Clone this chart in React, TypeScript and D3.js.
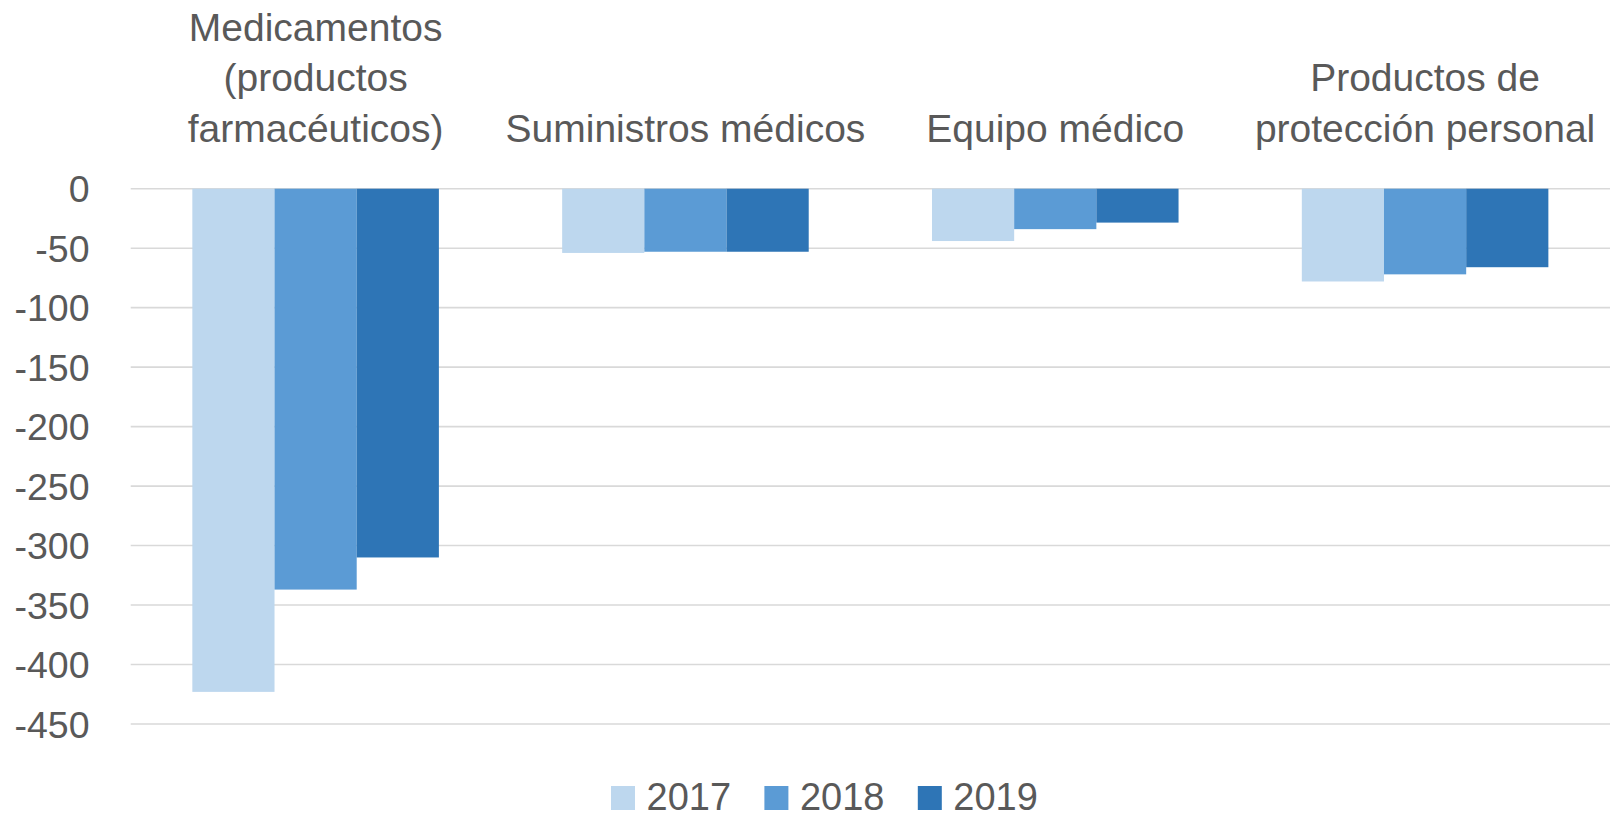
import React from "react";
import * as d3 from "d3";

const categories = [
  "Medicamentos (productos farmacéuticos)",
  "Suministros médicos",
  "Equipo médico",
  "Productos de protección personal",
];
const categoryLines = [
  ["Medicamentos", "(productos", "farmacéuticos)"],
  ["Suministros médicos"],
  ["Equipo médico"],
  ["Productos de", "protección personal"],
];
const seriesNames = ["2017", "2018", "2019"];
const values2017 = [-423, -54, -44, -78];
const values2018 = [-337, -53, -34, -72];
const values2019 = [-310, -53, -28.5, -66];
const yTicks = [0, -50, -100, -150, -200, -250, -300, -350, -400, -450];
const colors = ["#BDD7EE", "#5B9BD5", "#2E75B6"];

const W = 1613;
const H = 821;
const FONT = "'Liberation Sans', Arial, sans-serif";
const TEXT = "#595959";

export default function App() {
  const series = [values2017, values2018, values2019];
  const x = d3
    .scaleBand<string>()
    .domain(categories)
    .range([130.7, 1610])
    .paddingInner(1 / 3)
    .paddingOuter(1 / 6);
  const xs = d3
    .scaleBand<string>()
    .domain(seriesNames)
    .range([0, x.bandwidth()]);
  const y = d3.scaleLinear().domain([-450, 0]).range([724, 188.7]);

  return (
    <svg
      width={W}
      height={H}
      style={{ position: "fixed", left: 0, top: 0, background: "#fff" }}
      fontFamily={FONT}
    >
      <rect width={W} height={H} fill="#fff" />
      {yTicks.map((t) => (
        <g key={t}>
          <line
            x1={130.7}
            x2={1610}
            y1={y(t)}
            y2={y(t)}
            stroke="#D9D9D9"
            strokeWidth={1.6}
          />
          <text
            x={89.5}
            y={y(t)}
            dy="0.36em"
            textAnchor="end"
            fontSize={37.5}
            fill={TEXT}
          >
            {t}
          </text>
        </g>
      ))}
      {categories.map((c, ci) =>
        series.map((vals, si) => {
          const v = vals[ci];
          const bx = (x(c) as number) + (xs(seriesNames[si]) as number);
          return (
            <rect
              key={c + si}
              x={bx}
              width={xs.bandwidth()}
              y={y(0)}
              height={y(v) - y(0)}
              fill={colors[si]}
            />
          );
        })
      )}
      {categories.map((c, ci) => {
        const cx = (x(c) as number) + x.bandwidth() / 2;
        const lines = categoryLines[ci];
        const lastBaseline = 141.7;
        const lh = 50.5;
        return (
          <text key={c} textAnchor="middle" fontSize={39} fill={TEXT}>
            {lines.map((l, li) => (
              <tspan
                key={li}
                x={cx}
                y={lastBaseline - (lines.length - 1 - li) * lh}
              >
                {l}
              </tspan>
            ))}
          </text>
        );
      })}
      {seriesNames.map((s, i) => {
        const lx = 611 + i * 153.4;
        return (
          <g key={s}>
            <rect x={lx} y={786} width={24} height={24} fill={colors[i]} />
            <text x={lx + 35.5} y={810} fontSize={38} fill={TEXT}>
              {s}
            </text>
          </g>
        );
      })}
    </svg>
  );
}
